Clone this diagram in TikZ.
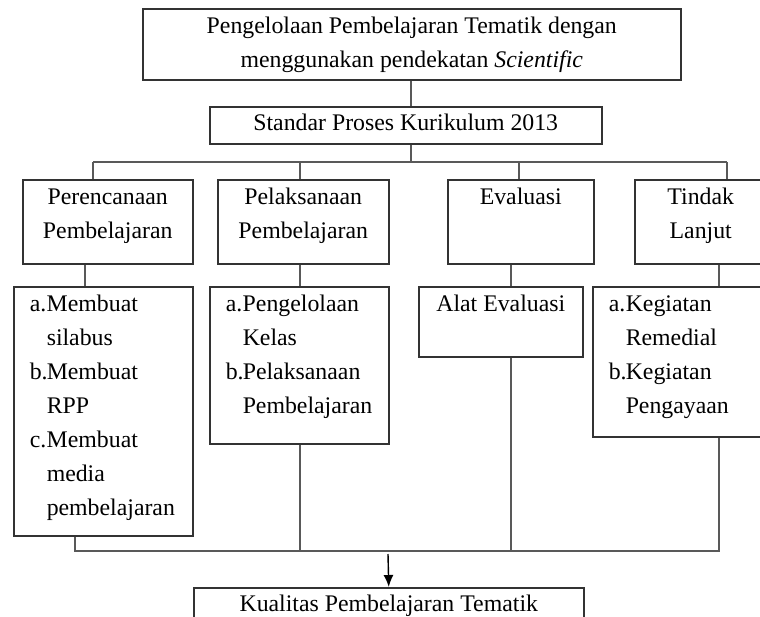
\documentclass[tikz,border=0pt]{standalone}
\usepackage{fontspec}
\setmainfont{Liberation Serif}
\usetikzlibrary{arrows.meta}
\newcommand\bxt[3]{\begin{minipage}[c][#2][t]{#1}#3\end{minipage}}
\newcommand\itm[2]{\hspace*{16pt}\makebox[17pt][l]{#1}#2}
\newcommand\ind[1]{\hspace*{33pt}#1}
\tikzset{
  boxst/.style={draw=black!80, line width=1.5pt, inner sep=0pt, anchor=north west},
  lnk/.style={draw=black!65, line width=1.7pt},
}
\begin{document}
\begin{tikzpicture}[x=1pt,y=-1pt,font=\fontsize{23.8}{34}\selectfont]
\clip (0,0) rectangle (760,616);
\fill[white] (0,0) rectangle (760,616);
% top boxes
\node[boxst] (top) at (142,8) {\bxt{538pt}{71pt}{\centering\rule{0pt}{25pt}Pengelolaan Pembelajaran Tematik dengan\\menggunakan pendekatan \textit{Scientific}}};
\node[boxst] (std) at (209,106) {\bxt{392pt}{37pt}{\centering\rule{0pt}{24pt}Standar Proses Kurikulum 2013}};
% headers
\node[boxst] (per) at (22,179) {\bxt{170pt}{84pt}{\centering\rule{0pt}{25pt}Perencanaan\\Pembelajaran}};
\node[boxst] (pel) at (217,179) {\bxt{171pt}{84pt}{\centering\rule{0pt}{25pt}Pelaksanaan\\Pembelajaran}};
\node[boxst] (eva) at (447,179) {\bxt{146pt}{84pt}{\centering\rule{0pt}{25pt}Evaluasi}};
\node[boxst] (tin) at (634,179) {\bxt{132pt}{84pt}{\centering\rule{0pt}{25pt}Tindak\\Lanjut}};
% sub boxes
\node[boxst] (persub) at (13,286) {\bxt{179pt}{249pt}{\rule{0pt}{25pt}\itm{a.}{Membuat}\\\ind{silabus}\\\itm{b.}{Membuat}\\\ind{RPP}\\\itm{c.}{Membuat}\\\ind{media}\\\ind{pembelajaran}}};
\node[boxst] (pelsub) at (209,286) {\bxt{179pt}{157pt}{\rule{0pt}{25pt}\itm{a.}{Pengelolaan}\\\ind{Kelas}\\\itm{b.}{Pelaksanaan}\\\ind{Pembelajaran}}};
\node[boxst] (alat) at (418,286) {\bxt{164pt}{70pt}{\centering\rule{0pt}{25pt}Alat Evaluasi}};
\node[boxst] (tinsub) at (592,286) {\bxt{190pt}{150pt}{\rule{0pt}{25pt}\itm{a.}{Kegiatan}\\\ind{Remedial}\\\itm{b.}{Kegiatan}\\\ind{Pengayaan}}};
% bottom box
\node[boxst] (kual) at (193,587) {\bxt{390pt}{40pt}{\centering\rule{0pt}{24pt}Kualitas Pembelajaran Tematik}};
% coordinates
\coordinate (t0) at (411,0);
\coordinate (b1) at (93,162);
\coordinate (b2) at (300,162);
\coordinate (b3) at (519,162);
\coordinate (b4) at (727,162);
\coordinate (m1) at (85,0);
\coordinate (m2) at (300,0);
\coordinate (m3) at (511,0);
\coordinate (m4) at (719,0);
\coordinate (c1) at (75,551);
\coordinate (c2) at (300,551);
\coordinate (c3) at (511,551);
\coordinate (c4) at (719,551);
\coordinate (a0) at (388,554);
% connectors
\draw[lnk] (top.south -| t0) -- (std.north -| t0);
\draw[lnk] (std.south -| t0) -- (b1 -| t0);
\draw[lnk] (b1) -- (b4);
\draw[lnk] (b1) -- (per.north -| b1);
\draw[lnk] (b2) -- (pel.north -| b2);
\draw[lnk] (b3) -- (eva.north -| b3);
\draw[lnk] (b4) -- (tin.north -| b4);
\draw[lnk] (per.south -| m1) -- (persub.north -| m1);
\draw[lnk] (pel.south -| m2) -- (pelsub.north -| m2);
\draw[lnk] (eva.south -| m3) -- (alat.north -| m3);
\draw[lnk] (tin.south -| m4) -- (tinsub.north -| m4);
\draw[lnk] (persub.south -| c1) -- (c1) -- (c4) -- (tinsub.south -| c4);
\draw[lnk] (pelsub.south -| c2) -- (c2);
\draw[lnk] (alat.south -| c3) -- (c3);
\draw[line width=1.4pt, -{Latex[length=12pt,width=10pt]}] (a0) -- (kual.north);
\end{tikzpicture}
\end{document}
